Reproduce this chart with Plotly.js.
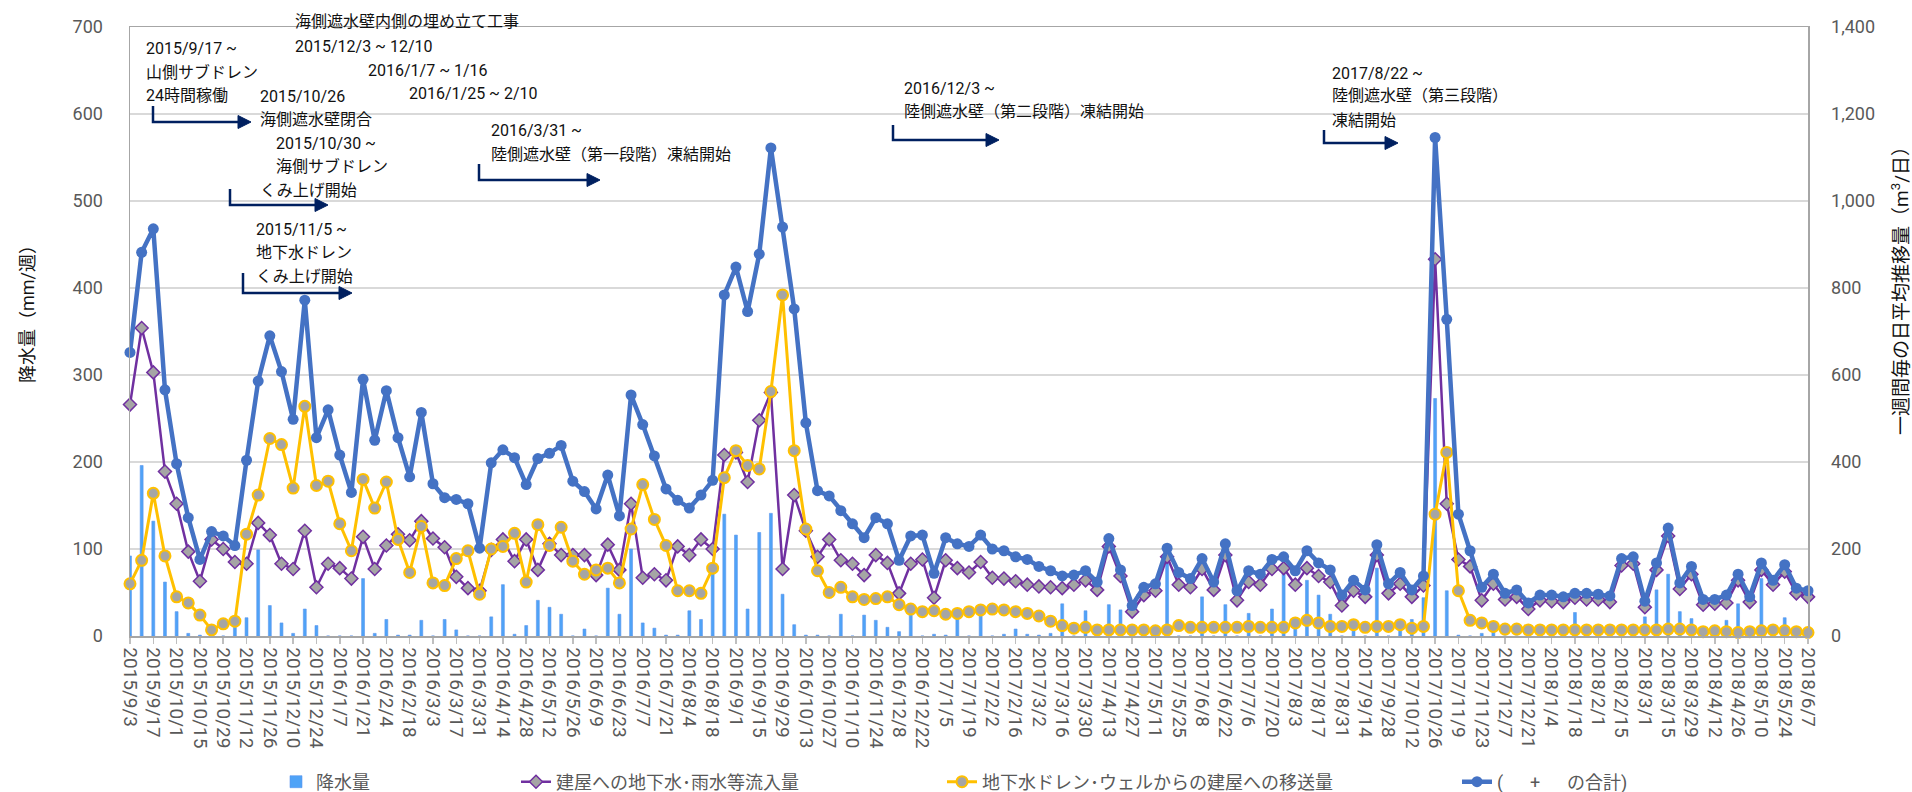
<!DOCTYPE html>
<html>
<head>
<meta charset="utf-8">
<script src="https://cdn.plot.ly/plotly-3.0.1.min.js"></script>
<style>html,body{margin:0;padding:0;background:#fff;}#chart{width:1912px;height:792px;}</style>
</head>
<body>
<div id="chart"></div>
<script>
// ---- categories (weekly dates) ----
const dates = [
"2015/9/3","2015/9/10","2015/9/17","2015/9/24","2015/10/1","2015/10/8","2015/10/15","2015/10/22","2015/10/29","2015/11/5",
"2015/11/12","2015/11/19","2015/11/26","2015/12/3","2015/12/10","2015/12/17","2015/12/24","2015/12/31",
"2016/1/7","2016/1/14","2016/1/21","2016/1/28","2016/2/4","2016/2/11","2016/2/18","2016/2/25","2016/3/3","2016/3/10",
"2016/3/17","2016/3/24","2016/3/31","2016/4/7","2016/4/14","2016/4/21","2016/4/28","2016/5/5","2016/5/12","2016/5/19",
"2016/5/26","2016/6/2","2016/6/9","2016/6/16","2016/6/23","2016/6/30","2016/7/7","2016/7/14","2016/7/21","2016/7/28",
"2016/8/4","2016/8/11","2016/8/18","2016/8/25","2016/9/1","2016/9/8","2016/9/15","2016/9/22","2016/9/29","2016/10/6",
"2016/10/13","2016/10/20","2016/10/27","2016/11/3","2016/11/10","2016/11/17","2016/11/24","2016/12/1","2016/12/8","2016/12/15",
"2016/12/22","2016/12/29",
"2017/1/5","2017/1/12","2017/1/19","2017/1/26","2017/2/2","2017/2/9","2017/2/16","2017/2/23","2017/3/2","2017/3/9",
"2017/3/16","2017/3/23","2017/3/30","2017/4/6","2017/4/13","2017/4/20","2017/4/27","2017/5/4","2017/5/11","2017/5/18",
"2017/5/25","2017/6/1","2017/6/8","2017/6/15","2017/6/22","2017/6/29","2017/7/6","2017/7/13","2017/7/20","2017/7/27",
"2017/8/3","2017/8/10","2017/8/17","2017/8/24","2017/8/31","2017/9/7","2017/9/14","2017/9/21","2017/9/28","2017/10/5",
"2017/10/12","2017/10/19","2017/10/26","2017/11/2","2017/11/9","2017/11/16","2017/11/23","2017/11/30","2017/12/7","2017/12/14",
"2017/12/21","2017/12/28",
"2018/1/4","2018/1/11","2018/1/18","2018/1/25","2018/2/1","2018/2/8","2018/2/15","2018/2/22","2018/3/1","2018/3/8",
"2018/3/15","2018/3/22","2018/3/29","2018/4/5","2018/4/12","2018/4/19","2018/4/26","2018/5/3","2018/5/10","2018/5/17",
"2018/5/24","2018/5/31","2018/6/7"
];

// ---- rainfall (mm/week, left axis) ----
const rainfall = [
92,196,132,62,28,3,1,0,0,10, 21,99,35,15,3,31,12,0,0,0,
66,3,19,1,1,18,0,19,7,0, 0,22,59,2,12,41,33,25,0,8,
0,55,25,100,15,9,1,1,29,19, 75,140,116,31,119,141,48,13,1,1,
0,25,0,24,18,10,5,25,0,2, 1,20,0,23,0,2,8,2,1,3,
37,0,29,0,36,30,0,0,0,88, 0,0,45,0,36,0,26,0,31,78,
13,64,47,25,0,8,0,78,0,8, 19,44,273,52,1,0,3,8,0,0,
0,0,0,0,27,0,0,0,0,0, 22,53,71,28,20,0,0,18,37,0,
66,0,21,0,0
];

// ---- groundwater / rainwater inflow into buildings (m3/day, right axis) ----
const inflow = [
532,708,606,378,304,194,126,222,200,170, 166,260,232,166,154,242,112,166,156,132,
228,154,208,234,220,264,224,204,136,110, 104,198,222,172,222,152,212,186,186,186,
140,210,152,304,134,142,128,206,186,222, 200,416,422,354,496,560,154,324,242,182,
222,174,166,140,186,168,98,166,176,88, 174,156,146,170,134,132,126,118,114,112,
110,118,128,106,206,138,56,94,104,182, 118,112,154,106,186,82,124,118,154,156,
118,156,138,124,70,104,90,186,98,120, 90,116,866,304,176,160,82,120,84,90,
62,82,80,78,88,84,84,78,162,166, 66,152,230,108,142,72,74,76,128,78,
152,118,148,98,90
];

// ---- transfer from groundwater drain / wells to buildings (m3/day, right axis) ----
const drainTransfer = [
120,174,328,184,90,76,48,14,28,34, 234,324,454,440,340,528,346,356,258,196,
360,294,354,222,146,252,122,116,178,196, 96,200,206,236,124,256,208,250,172,142,
152,156,122,246,348,268,208,104,104,98, 156,364,426,392,384,562,784,426,246,150,
100,112,90,84,86,90,72,62,56,58, 50,52,56,60,62,60,56,52,46,34,
24,18,20,14,14,14,14,14,12,14, 24,20,20,20,20,20,22,20,20,20,
30,36,30,22,22,26,20,22,22,26, 18,22,280,422,104,36,30,22,16,16,
14,14,14,14,14,14,14,14,14,14, 14,14,16,16,14,10,12,10,8,10,
12,14,12,10,8
];

// ---- total (m3/day, right axis) ----
const total = [
652,882,936,566,396,272,176,240,230,208, 404,586,690,608,498,772,456,520,416,330,
590,450,564,456,366,514,350,318,314,304, 202,398,428,410,348,408,420,438,356,332,
292,370,276,554,486,414,338,312,294,324, 358,784,848,746,878,1122,940,752,490,334,
322,288,258,226,272,258,174,230,232,144, 226,212,206,232,200,196,182,176,160,150,
138,140,150,124,224,152,70,112,120,202, 146,132,178,124,212,104,150,142,176,182,
150,196,168,152,94,128,106,210,120,146, 106,138,1146,728,280,196,112,142,98,106,
76,94,94,90,98,98,96,92,178,182, 80,168,248,122,160,84,84,94,142,90,
168,128,164,110,104
];

const seriesNames = [
  "降水量",
  "建屋への地下水･雨水等流入量",
  "地下水ドレン･ウェルからの建屋への移送量",
  "(\u00a0\u00a0\u00a0\u00a0\u00a0\u00a0+\u00a0\u00a0\u00a0\u00a0\u00a0\u00a0の合計)"
];

const tickLabels = dates.filter((d, i) => i % 2 === 0);

// ---- geometry helpers (pixel -> paper) ----
const L = 130, R = 104, T = 27, B = 156, W = 1912, H = 792;
const PW = W - L - R, PH = H - T - B;
const px = x => (x - L) / PW;
const py = y => (H - B - y) / PH;

const FONT = "Roboto, 'Noto Sans CJK JP', sans-serif";
const BLUE = "#4472C4", PURPLE = "#7030A0", YELLOW = "#FFC000", GREY = "#A5A5A5";

const traces = [
  {type: "bar", name: seriesNames[0], x: dates, y: rainfall, yaxis: "y",
   marker: {color: "#4fa3f7", line: {color: "#5b95ee", width: 0.6}},
   legend: "legend", showlegend: true},
  {type: "scatter", mode: "lines+markers", name: seriesNames[1], x: dates, y: inflow, yaxis: "y2",
   line: {color: PURPLE, width: 2.5},
   marker: {symbol: "diamond", size: 10, color: GREY, line: {color: PURPLE, width: 1.5}},
   legend: "legend2", showlegend: true, cliponaxis: false},
  {type: "scatter", mode: "lines+markers", name: seriesNames[2], x: dates, y: drainTransfer, yaxis: "y2",
   line: {color: YELLOW, width: 3},
   marker: {symbol: "circle", size: 11, color: GREY, line: {color: YELLOW, width: 2}},
   legend: "legend3", showlegend: true, cliponaxis: false},
  {type: "scatter", mode: "lines+markers", name: seriesNames[3], x: dates, y: total, yaxis: "y2",
   line: {color: BLUE, width: 4.5},
   marker: {symbol: "circle", size: 11, color: BLUE},
   legend: "legend4", showlegend: true, cliponaxis: false}
];

// ---- annotation texts ----
const notes = [
  ["海側遮水壁内側の埋め立て工事", 293, 21],
  ["2015/12/3 ~ 12/10", 293, 47],
  ["2016/1/7 ~ 1/16", 366, 70],
  ["2016/1/25 ~ 2/10", 407, 94],
  ["2015/9/17 ~", 144, 49],
  ["山側サブドレン", 144, 72],
  ["24時間稼働", 144, 96],
  ["2015/10/26", 258, 97],
  ["海側遮水壁閉合", 258, 119],
  ["2015/10/30 ~", 274, 143],
  ["海側サブドレン", 274, 166],
  ["くみ上げ開始", 258, 190],
  ["2015/11/5 ~", 254, 229],
  ["地下水ドレン", 254, 252],
  ["くみ上げ開始", 254, 276],
  ["2016/3/31 ~", 489, 130],
  ["陸側遮水壁（第一段階）凍結開始", 489, 154],
  ["2016/12/3 ~", 902, 88],
  ["陸側遮水壁（第二段階）凍結開始", 902, 111],
  ["2017/8/22 ~", 1330, 73],
  ["陸側遮水壁（第三段階）", 1330, 96],
  ["凍結開始", 1330, 120]
];
const arrows = [
  [153, 106, 122, 251],
  [230, 189, 205, 328],
  [243, 273, 293, 352],
  [479, 164, 180, 600],
  [893, 125, 140, 999],
  [1324, 130, 143, 1398]
];

const annotations = notes.map(([t, x, y]) => ({
  text: t, xref: "paper", yref: "paper", x: px(x), y: py(y),
  xanchor: "left", yanchor: "middle", showarrow: false,
  font: {family: FONT, size: 16, color: "#111"}
}));
annotations.push({
  text: "降水量（mm/週）", xref: "paper", yref: "paper", x: px(27), y: py(310),
  xanchor: "center", yanchor: "middle", textangle: -90, showarrow: false,
  font: {family: FONT, size: 18, color: "#111"}
});
annotations.push({
  text: "一週間毎の日平均推移量（m<sup>3</sup>/日）", xref: "paper", yref: "paper", x: px(1900), y: py(286),
  xanchor: "center", yanchor: "middle", textangle: -90, showarrow: false,
  font: {family: FONT, size: 19, color: "#111"}
});

const shapes = [];
arrows.forEach(([x0, y0, y1, xt]) => {
  const headL = 13, headH = 6.5;
  shapes.push({type: "path", xref: "paper", yref: "paper",
    path: `M${px(x0)},${py(y0)} L${px(x0)},${py(y1)} L${px(xt - headL + 1)},${py(y1)}`,
    line: {color: "#002060", width: 2.5}});
  shapes.push({type: "path", xref: "paper", yref: "paper",
    path: `M${px(xt - headL)},${py(y1 - headH)} L${px(xt)},${py(y1)} L${px(xt - headL)},${py(y1 + headH)} Z`,
    fillcolor: "#002060", line: {color: "#002060", width: 1}});
});

const legendBase = {
  orientation: "h", yanchor: "middle", xanchor: "left", y: py(782),
  font: {family: FONT, size: 18, color: "#595959"}, bgcolor: "rgba(0,0,0,0)", borderwidth: 0
};

const layout = {
  width: W, height: H,
  margin: {l: L, r: R, t: T, b: B, pad: 0, autoexpand: false},
  paper_bgcolor: "#fff", plot_bgcolor: "#fff",
  font: {family: FONT, color: "#595959"},
  showlegend: true,
  bargap: 0.75,
  xaxis: {
    type: "category", range: [0, dates.length - 1], automargin: false,
    tickmode: "array", tickvals: tickLabels, ticktext: tickLabels,
    tickangle: 90, tickfont: {family: FONT, size: 19, color: "#595959"},
    ticks: "outside", ticklen: 6, tickcolor: "#bfbfbf", tickwidth: 1.5,
    showgrid: false, showline: true, linecolor: "#a6a6a6", linewidth: 1.5, mirror: true,
    zeroline: false
  },
  yaxis: {
    range: [0, 700], dtick: 100, automargin: false,
    tickfont: {family: FONT, size: 18, color: "#595959"}, ticklabelstandoff: 22,
    showgrid: true, gridcolor: "#d9d9d9", gridwidth: 1.5,
    showline: true, linecolor: "#a6a6a6", linewidth: 1.5, zeroline: false, ticks: ""
  },
  yaxis2: {
    overlaying: "y", side: "right", range: [0, 1400], dtick: 200, tickformat: ",d", automargin: false,
    tickfont: {family: FONT, size: 18, color: "#595959"}, ticklabelstandoff: 18,
    showgrid: false, showline: true, linecolor: "#a6a6a6", linewidth: 1.5, zeroline: false, ticks: ""
  },
  legend: Object.assign({}, legendBase, {x: px(276)}),
  legend2: Object.assign({}, legendBase, {x: px(516)}),
  legend3: Object.assign({}, legendBase, {x: px(942)}),
  legend4: Object.assign({}, legendBase, {x: px(1457)}),
  annotations: annotations,
  shapes: shapes,
  hovermode: false
};

Plotly.newPlot("chart", traces, layout, {displayModeBar: false, staticPlot: true});
</script>
</body>
</html>
